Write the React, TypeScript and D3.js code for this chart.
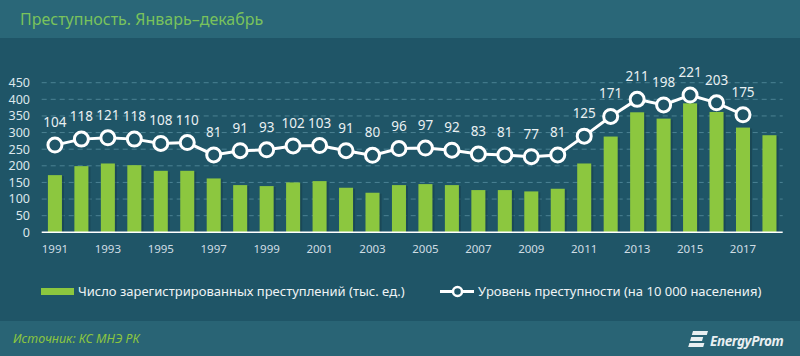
import React, { useEffect, useRef } from 'react';
import * as d3 from 'd3';

// years for bars (1991-2018) and values
const years = d3.range(1991, 2019).map(String);
const crimes = [172, 199, 207, 202, 185, 185, 162, 142, 139, 150, 154, 134, 119, 142, 145, 142, 127, 127, 123, 131, 207, 288, 361, 342, 388, 362, 315, 292];
// crime rate per 10 000 (1991-2017)
const rateYears = d3.range(1991, 2018).map(String);
const rates = [104, 118, 121, 118, 108, 110, 81, 91, 93, 102, 103, 91, 80, 96, 97, 92, 83, 81, 77, 81, 125, 171, 211, 198, 221, 203, 175];
const yTicks = [0, 50, 100, 150, 200, 250, 300, 350, 400, 450];
const xTickYears = ['1991', '1993', '1995', '1997', '1999', '2001', '2003', '2005', '2007', '2009', '2011', '2013', '2015', '2017'];

const FONT = '"Noto Sans", "Open Sans", sans-serif';

const App = () => {
  const ref = useRef<SVGSVGElement | null>(null);

  useEffect(() => {
    const svg = d3.select(ref.current);
    svg.selectAll('*').remove();

    const W = 800;
    const H = 356;

    // backgrounds
    svg.append('rect').attr('width', W).attr('height', H).attr('fill', '#1f5567');
    svg.append('rect').attr('width', W).attr('height', 38).attr('fill', '#2a6778');
    svg.append('rect').attr('y', 321).attr('width', W).attr('height', 35).attr('fill', '#296475');

    svg
      .append('text')
      .attr('x', 20)
      .attr('y', 25)
      .attr('fill', '#79c25c')
      .style('font-family', FONT)
      .style('font-size', '16px')
      .text('Преступность. Январь–декабрь');

    const x = d3.scaleBand().domain(years).range([41.7, 782.7]).paddingInner(0.47).paddingOuter(0.235);
    const y = d3.scaleLinear().domain([0, 450]).range([232.3, 82.7]);
    // hidden secondary axis for the rate line
    const y2 = d3.scaleLinear().domain([-100, 250]).range([232.3, 82.7]);

    // grid
    svg
      .append('g')
      .selectAll('line')
      .data(yTicks.filter((d) => d > 0))
      .enter()
      .append('line')
      .attr('x1', 41.7)
      .attr('x2', 782.7)
      .attr('y1', (d) => y(d))
      .attr('y2', (d) => y(d))
      .attr('stroke', '#4b8293')
      .attr('stroke-width', 1)
      .attr('stroke-dasharray', '5,4');

    // y axis labels
    svg
      .append('g')
      .selectAll('text')
      .data(yTicks)
      .enter()
      .append('text')
      .attr('x', 30)
      .attr('y', (d) => y(d))
      .attr('dy', '0.35em')
      .attr('text-anchor', 'end')
      .attr('fill', '#dce7ec')
      .style('font-family', FONT)
      .style('font-size', '12.5px')
      .text((d) => d);

    // bars (with small shadow)
    const bars = svg.append('g');
    bars
      .selectAll('rect.shadow')
      .data(crimes)
      .enter()
      .append('rect')
      .attr('class', 'shadow')
      .attr('x', (d, i) => (x(years[i]) as number) + 2)
      .attr('y', (d) => y(d) + 1)
      .attr('width', x.bandwidth())
      .attr('height', (d) => y(0) - y(d) - 1)
      .attr('fill', '#173f4c')
      .attr('opacity', 0.6);
    bars
      .selectAll('rect.bar')
      .data(crimes)
      .enter()
      .append('rect')
      .attr('class', 'bar')
      .attr('x', (d, i) => x(years[i]) as number)
      .attr('y', (d) => y(d))
      .attr('width', x.bandwidth())
      .attr('height', (d) => y(0) - y(d))
      .attr('fill', '#8cc73f');

    // baseline
    svg
      .append('line')
      .attr('x1', 41.7)
      .attr('x2', 782.7)
      .attr('y1', y(0))
      .attr('y2', y(0))
      .attr('stroke', '#ffffff')
      .attr('stroke-width', 1.5);

    // x labels
    svg
      .append('g')
      .selectAll('text')
      .data(xTickYears)
      .enter()
      .append('text')
      .attr('x', (d) => (x(d) as number) + x.bandwidth() / 2)
      .attr('y', 253)
      .attr('text-anchor', 'middle')
      .attr('fill', '#cfdde4')
      .style('font-family', FONT)
      .style('font-size', '11.5px')
      .text((d) => d);

    // line
    const cx = (i: number) => (x(rateYears[i]) as number) + x.bandwidth() / 2;
    const line = d3
      .line<number>()
      .x((d, i) => cx(i))
      .y((d) => y2(d));
    svg
      .append('path')
      .datum(rates)
      .attr('fill', 'none')
      .attr('stroke', '#ffffff')
      .attr('stroke-width', 3)
      .attr('d', line);

    svg
      .append('g')
      .selectAll('circle')
      .data(rates)
      .enter()
      .append('circle')
      .attr('cx', (d, i) => cx(i))
      .attr('cy', (d) => y2(d))
      .attr('r', 7)
      .attr('fill', '#1f5567')
      .attr('stroke', '#ffffff')
      .attr('stroke-width', 3);

    svg
      .append('g')
      .selectAll('text')
      .data(rates)
      .enter()
      .append('text')
      .attr('x', (d, i) => cx(i))
      .attr('y', (d) => y2(d) - 18)
      .attr('text-anchor', 'middle')
      .attr('fill', '#e9f0f2')
      .style('font-family', FONT)
      .style('font-size', '13.5px')
      .text((d) => d);

    // legend
    const lg = svg.append('g').style('font-family', FONT).style('font-size', '13px');
    lg.append('rect').attr('x', 41).attr('y', 288).attr('width', 33).attr('height', 7).attr('fill', '#8cc73f');
    lg.append('text')
      .attr('x', 78)
      .attr('y', 296)
      .attr('fill', '#eef3f5')
      .text('Число зарегистрированных преступлений (тыс. ед.)');
    lg.append('line')
      .attr('x1', 440)
      .attr('x2', 474)
      .attr('y1', 291.5)
      .attr('y2', 291.5)
      .attr('stroke', '#ffffff')
      .attr('stroke-width', 3);
    lg.append('circle')
      .attr('cx', 457.5)
      .attr('cy', 291.5)
      .attr('r', 4.5)
      .attr('fill', '#1f5567')
      .attr('stroke', '#ffffff')
      .attr('stroke-width', 2.5);
    lg.append('text')
      .attr('x', 478)
      .attr('y', 296)
      .attr('fill', '#eef3f5')
      .text('Уровень преступности (на 10 000 населения)');

    // source
    svg
      .append('text')
      .attr('x', 13)
      .attr('y', 343)
      .attr('fill', '#8cc63f')
      .style('font-family', FONT)
      .style('font-style', 'italic')
      .style('font-size', '12.5px')
      .text('Источник: КС МНЭ РК');

    // logo
    const logo = svg.append('g').attr('fill', '#e8eff1');
    [0, 6, 12].forEach((dy, i) => {
      const w = i === 1 ? 12 : 15;
      logo
        .append('path')
        .attr('d', `M${693 - dy * 0.3},${331 + dy} l${w},0 l-1.2,4 l-${w},0 z`);
    });
    logo
      .append('text')
      .attr('x', 710)
      .attr('y', 346)
      .style('font-family', FONT)
      .style('font-style', 'italic')
      .style('font-weight', 'bold')
      .style('font-size', '13.5px')
      .style('letter-spacing', '-0.4px')
      .text('EnergyProm');
  }, []);

  return (
    <svg
      ref={ref}
      width={800}
      height={356}
      style={{ display: 'block', position: 'absolute', left: 0, top: 0 }}
    />
  );
};

export default App;
